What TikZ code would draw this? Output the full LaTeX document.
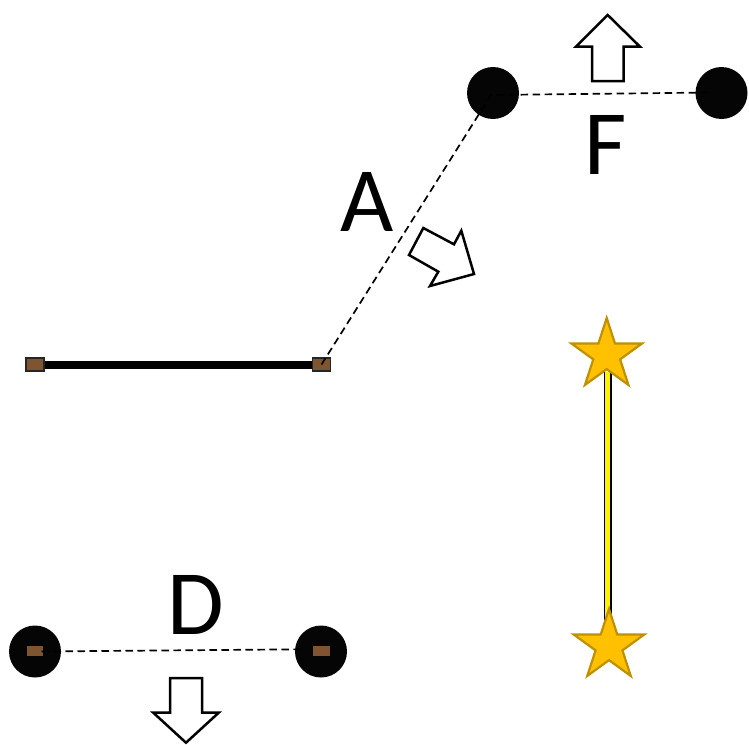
\documentclass[tikz,border=0pt]{standalone}
\usepackage{fontspec}
\setmainfont{Carlito}
\usetikzlibrary{shapes.geometric}
\definecolor{rodbrown}{HTML}{7F5531}
\definecolor{starfill}{HTML}{FFC000}
\definecolor{starline}{HTML}{BF9000}
\tikzset{
  x=1pt,y=-1pt,
  ball/.style={circle,fill=black!98,draw=none,minimum size=52pt,inner sep=0pt},
  rod/.style={rectangle,fill=rodbrown,draw=black!85,line width=1.2pt,minimum width=18pt,minimum height=13pt,inner sep=0pt},
  stud/.style={rectangle,fill=rodbrown,draw=none,minimum width=16.5pt,minimum height=10pt,inner sep=0pt},
  starnode/.style={star,star points=5,star point ratio=2.618,fill=starfill,draw=starline,line width=2.2pt,minimum size=74pt,inner sep=0pt},
  dashlink/.style={draw=black,line width=1.7pt,dash pattern=on 7.5pt off 4.5pt},
  bigarrow/.style={draw=black,fill=white,line width=2.5pt,miter limit=10},
  letter/.style={font=\fontsize{92}{92}\selectfont,text=black,inner sep=0pt},
}
\begin{document}
\begin{tikzpicture}
\useasboundingbox (0,0) rectangle (749,744);
% thick bar with its rods
\fill[yellow!90!green] (26.5,358) circle (1.3) (43.5,358) circle (1.3);
\node[rod] (rodL) at (35,364.5) {};
\node[rod] (rodR) at (321.5,364.5) {};
\draw[black,line width=8pt] (rodL.east) -- (rodR.west);
% balls
\node[ball] (ballFL) at (493,93) {};
\node[ball] (ballFR) at (721.5,93) {};
\node[ball] (ballDL) at (35,651.5) {};
\node[ball] (ballDR) at (321,651.5) {};
\node[stud] (studDL) at (35,651) {};
\node[stud] (studDR) at (321.5,651) {};
% stars and the yellow link
\coordinate (linkT) at (607.5,372);
\coordinate (linkB) at (607.5,625);
\draw[black,line width=8pt] (linkT) -- (linkB);
\draw[yellow,line width=5pt] (linkT) -- (linkB);
\node[starnode] (starT) at (606.7,355) {};
\node[starnode] (starB) at (609,646) {};
% dashed links
\coordinate (cornerFL) at (491,95);
\coordinate (endFR) at (712,92.5);
\coordinate (endDL) at (41.5,651.5);
\coordinate (endDR) at (300,649.3);
\draw[dashlink] (rodR.center) -- (cornerFL) -- (endFR);
\draw[dashlink] (endDL) -- (endDR);
% block arrows
\draw[bigarrow] (607.7,15) -- (640,46.7) -- (623.7,46.7) -- (623.7,81) -- (592,81) -- (592,46.7) -- (576,46.7) -- cycle;
\draw[bigarrow] (186,742.7) -- (218.7,712.7) -- (202,712.7) -- (202,678) -- (170,678) -- (170,712.7) -- (153.3,712.7) -- cycle;
\draw[bigarrow] (423.3,228) -- (454,244.3) -- (461.3,230.7) -- (474,274) -- (430,286) -- (438.3,271.7) -- (409,255) -- cycle;
% labels
\node[letter] (labelA) at (366.7,202) {A};
\node[letter] (labelF) at (606,144.5) {F};
\node[letter] (labelD) at (196,605) {D};
\end{tikzpicture}
\end{document}
